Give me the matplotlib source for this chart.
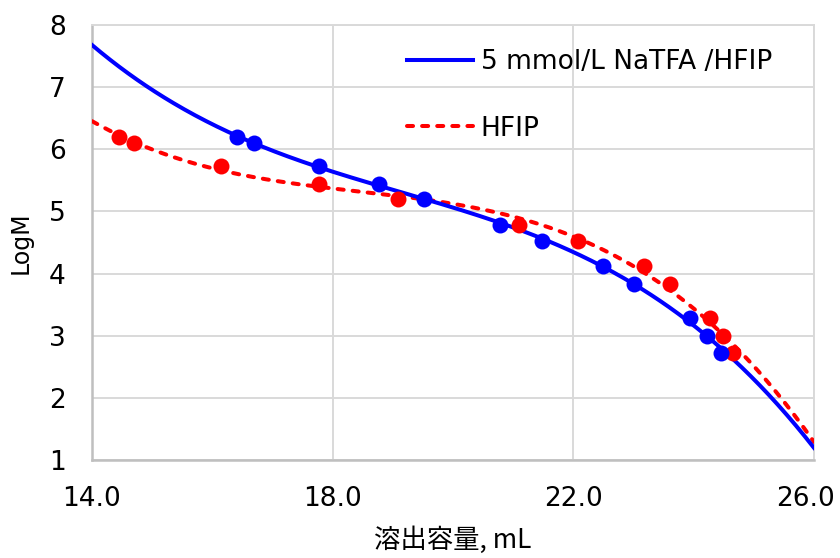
import numpy as np
import matplotlib
matplotlib.use("Agg")
import matplotlib.pyplot as plt
import matplotlib.transforms as mtransforms

plt.rcParams['font.family'] = ['DejaVu Sans', 'Noto Sans CJK JP']

# standards: log molecular weight and elution volume (mL) in each eluent
logm = [6.20, 6.10, 5.73, 5.44, 5.20, 4.78, 4.53, 4.13, 3.83, 3.29, 3.00, 2.72]
vol_natfa = [16.41, 16.69, 17.77, 18.77, 19.52, 20.78, 21.48, 22.50, 23.01, 23.94, 24.23, 24.46]
vol_hfip = [14.45, 14.70, 16.15, 17.77, 19.08, 21.10, 22.07, 23.18, 23.61, 24.27, 24.48, 24.66]

label_natfa = "5 mmol/L NaTFA /HFIP"
label_hfip = "HFIP"

BLUE = "#0000ff"
RED = "#ff0000"

fig = plt.figure(figsize=(8.4, 5.58), dpi=100)
ax = fig.add_axes([0.1095, 0.1756, 0.8595, 0.7796])

# cubic calibration curves over the full volume range
xs = np.linspace(14, 26, 400)
fit_natfa = np.polyval(np.polyfit(vol_natfa, logm, 3), xs)
fit_hfip = np.polyval(np.polyfit(vol_hfip, logm, 3), xs)

ax.plot(xs, fit_hfip, color=RED, lw=2.9, dashes=(1.5, 2.25),
        dash_capstyle='round', label=label_hfip, zorder=3)
ax.plot(xs, fit_natfa, color=BLUE, lw=2.9, label=label_natfa, zorder=4)
ax.plot(vol_hfip, logm, 'o', color=RED, ms=11.5, mec='none', zorder=5)
ax.plot(vol_natfa, logm, 'o', color=BLUE, ms=11.5, mec='none', zorder=6)

ax.set_xlim(14, 26)
ax.set_ylim(1, 8)
ax.set_xticks([14, 18, 22, 26])
ax.set_xticklabels(["14.0", "18.0", "22.0", "26.0"])
ax.set_yticks(range(1, 9))

ax.grid(True, color="#d9d9d9", lw=1.4)
ax.set_axisbelow(True)
for side in ['top', 'right']:
    ax.spines[side].set_color("#d9d9d9")
    ax.spines[side].set_linewidth(1.4)
for side in ['left', 'bottom']:
    ax.spines[side].set_color("#bfbfbf")
    ax.spines[side].set_linewidth(1.8)

ax.tick_params(axis='both', length=0, labelsize=19, colors='black')
ax.tick_params(axis='y', pad=19)
ax.tick_params(axis='x', pad=19)

# nudge the last x label so it stays inside the figure
last = ax.get_xticklabels()[-1]
last.set_transform(last.get_transform() +
                   mtransforms.ScaledTranslation(-6 / 72, 0, fig.dpi_scale_trans))

ax.set_xlabel("溶出容量, mL", fontsize=19,
              family=['Noto Sans CJK JP', 'DejaVu Sans'], labelpad=10)
ax.set_ylabel("LogM", fontsize=17, labelpad=12)

handles, labels = ax.get_legend_handles_labels()
ax.legend(handles[::-1], labels[::-1], loc='upper left',
          bbox_to_anchor=(0.403, 1.0), frameon=False, fontsize=19,
          handlelength=2.5, handletextpad=0.3, labelspacing=1.55)

fig.savefig("out.png", dpi=100)
